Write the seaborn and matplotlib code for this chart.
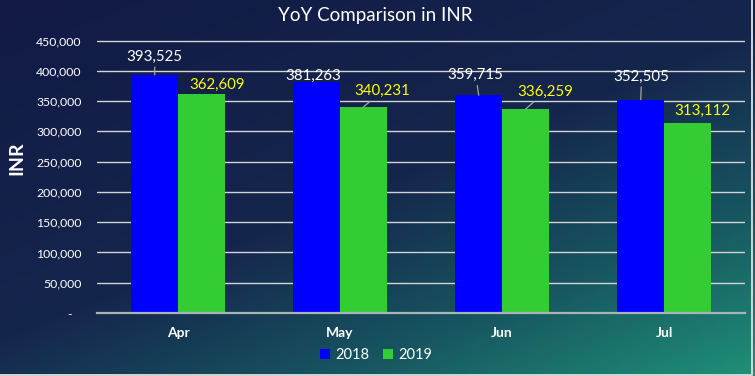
import numpy as np
import pandas as pd
import seaborn as sns
import matplotlib.pyplot as plt
from matplotlib.colors import LinearSegmentedColormap
from matplotlib.lines import Line2D
from matplotlib.ticker import FuncFormatter

months = ['Apr', 'May', 'Jun', 'Jul']
years = ['2018', '2019']
inr_2018 = [393525, 381263, 359715, 352505]
inr_2019 = [362609, 340231, 336259, 313112]

df = pd.DataFrame({'Month': months * 2,
                   'Year': [years[0]] * 4 + [years[1]] * 4,
                   'INR': inr_2018 + inr_2019})

sns.set_style('ticks')
plt.rcParams['font.family'] = ['Lato', 'DejaVu Sans']

fig = plt.figure(figsize=(7.55, 3.76), dpi=100)

# gradient background
bg = fig.add_axes([0, 0, 1, 1], zorder=-10)
yy, xx = np.mgrid[0:1:376j, 0:1:755j]
t = 0.45 * xx + 0.55 * yy
cmap = LinearSegmentedColormap.from_list('bg', [(0, '#121a45'), (0.5, '#15264d'),
                                                (0.75, '#175560'), (1, '#1f9077')])
bg.imshow(t, cmap=cmap, aspect='auto', extent=[0, 1, 0, 1], origin='upper', vmin=0, vmax=1)
bg.set_axis_off()

ax = fig.add_axes([97 / 755, 1 - 313 / 376, 648 / 755, 273 / 376])
ax.set_facecolor('none')
sns.barplot(data=df, x='Month', y='INR', hue='Year', palette=['#0000ff', '#33cc33'],
            width=0.575, gap=0, saturation=1, linewidth=0, edgecolor='none', ax=ax)

ax.set_xlim(-0.5, 3.5)
ax.set_ylim(0, 451000)
ax.set_yticks(np.arange(0, 450001, 50000))
ax.yaxis.set_major_formatter(FuncFormatter(lambda v, p: '-   ' if v == 0 else f'{v:,.0f}'))
ax.grid(axis='y', color='#d4d4d4', lw=1)
ax.set_axisbelow(True)
for s in ['top', 'right', 'left']:
    ax.spines[s].set_visible(False)
ax.spines['bottom'].set_color('#a9b4b4')
ax.spines['bottom'].set_linewidth(1.6)
ax.spines['bottom'].set_zorder(3)
ax.tick_params(axis='y', length=0, pad=11, labelsize=8.8, labelcolor='white')
ax.tick_params(axis='x', length=0, pad=10, labelsize=10, labelcolor='white')
for lab in ax.get_xticklabels():
    lab.set_fontweight('bold')
ax.set_xlabel('')
ax.set_ylabel('')

# data labels (offsets in pixels from the bar top), leader lines where the label was moved
label_offsets = [[(0, 18), (-3, 6), (-3, 20), (1, 23)],
                 [(16, 9), (19, 16), (20, 18), (15, 13)]]
leaders = [[True, False, True, True],
           [False, True, True, False]]
label_colors = ['white', '#ffff00']
for cont, offs, leads, col in zip(ax.containers, label_offsets, leaders, label_colors):
    for bar, off, lead in zip(cont, offs, leads):
        v = bar.get_height()
        arrow = dict(arrowstyle='-', color='#a6a6a6', lw=0.9, shrinkA=0, shrinkB=0) if lead else None
        ax.annotate(f'{v:,.0f}', xy=(bar.get_x() + bar.get_width() / 2, v),
                    xytext=off, textcoords='offset pixels', ha='center', va='center',
                    color=col, fontsize=10.8, zorder=5, arrowprops=arrow)

handles, labels = ax.get_legend_handles_labels()
ax.get_legend().remove()
fig.legend(handles, labels, loc='center', bbox_to_anchor=(376 / 755, 1 - 355 / 376), ncol=2,
           frameon=False, fontsize=10.5, labelcolor='white', handlelength=0.7, handleheight=0.7,
           handletextpad=0.35, columnspacing=0.9)

fig.text(375 / 755, 1 - 16 / 376, 'YoY Comparison in INR', ha='center', va='center',
         color='white', fontsize=13.5)
fig.text(17 / 755, 1 - 158 / 376, 'INR', ha='center', va='center', rotation=90,
         color='white', fontsize=14, fontweight='bold')

# outer border
fig.add_artist(Line2D([751.5 / 755, 751.5 / 755], [0.004, 1], color='#d6d6d6', lw=1.4))
fig.add_artist(Line2D([0, 751.5 / 755], [1 - 374.5 / 376, 1 - 374.5 / 376], color='#d6d6d6', lw=1.4))

fig.savefig('out.png', dpi=100)
